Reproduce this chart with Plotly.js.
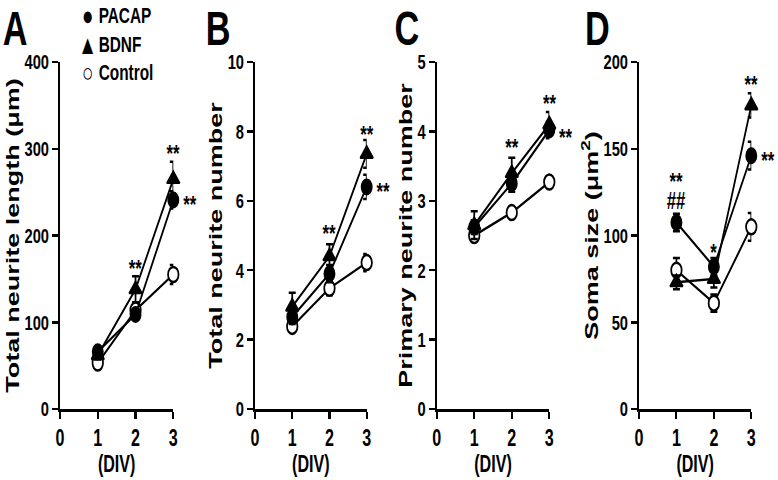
<!DOCTYPE html>
<html>
<head>
<meta charset="utf-8">
<script src="https://cdn.plot.ly/plotly-3.0.1.min.js"></script>
<style>
  html, body { margin: 0; padding: 0; background: #fff; overflow: hidden; }
  #wrap { width: 778px; height: 480px; overflow: hidden; }
  #chart { width: 1112px; height: 480px; transform: scaleX(0.69964); transform-origin: 0 0; }
</style>
</head>
<body>
<div id="wrap"><div id="chart"></div></div>
<script>
// ---- data ----
const div = [1, 2, 3];
const xTickVals = [0, 1, 2, 3];
const seriesNames = ["PACAP", "BDNF", "Control"];
const legendSymbols = ["\u25CF", "\u25B2", "\u25CB"];

// A: Total neurite length (µm)
const lenPACAP = [66, 109, 241];
const lenPACAPErr = [5, 6, 10];
const lenBDNF = [62, 138, 265];
const lenBDNFErr = [5, 15, 20];
const lenControl = [53, 114, 155];
const lenControlErr = [4, 6, 11];

// B: Total neurite number
const numPACAP = [2.65, 3.9, 6.4];
const numPACAPErr = [0.2, 0.25, 0.35];
const numBDNF = [2.95, 4.4, 7.35];
const numBDNFErr = [0.4, 0.35, 0.4];
const numControl = [2.38, 3.48, 4.22];
const numControlErr = [0.15, 0.2, 0.25];

// C: Primary neurite number
const priPACAP = [2.62, 3.25, 4.02];
const priPACAPErr = [0.1, 0.12, 0.12];
const priBDNF = [2.65, 3.4, 4.1];
const priBDNFErr = [0.2, 0.22, 0.18];
const priControl = [2.5, 2.83, 3.27];
const priControlErr = [0.08, 0.06, 0.07];

// D: Soma size (µm²)
const somaPACAP = [107.5, 82, 146];
const somaPACAPErr = [5, 5, 8];
const somaBDNF = [73, 75, 175];
const somaBDNFErr = [4, 5, 7];
const somaControl = [80, 61, 105];
const somaControlErr = [7, 5, 8];

const yTicksA = [0, 100, 200, 300, 400];
const yTicksB = [0, 2, 4, 6, 8, 10];
const yTicksC = [0, 1, 2, 3, 4, 5];
const yTicksD = [0, 50, 100, 150, 200];

const panelLetters = ["A", "B", "C", "D"];
const yTitles = ["Total neurite length (\u03bcm)", "Total neurite number", "Primary neurite number", "Soma size (\u03bcm<sup>2</sup>)"];
const xTitle = "(DIV)";

// significance marks: [panel, x, y, text, side]  side: "top" above the point, "right" beside it
const sigMarks = [
  [0, 2, 168, "**", "top"], [0, 3, 300, "**", "top"], [0, 3, 241, "**", "right"],
  [1, 2, 5.2, "**", "top"], [1, 3, 8.05, "**", "top"], [1, 3, 6.4, "**", "right"],
  [2, 2, 3.84, "**", "top"], [2, 3, 4.47, "**", "top"], [2, 3, 3.99, "**", "right"],
  [3, 1, 134, "**", "top"], [3, 1, 120, "##", "top"], [3, 2, 93, "*", "top"], [3, 3, 190, "**", "top"], [3, 3, 146, "**", "right"]
];

// ---- styling ----
const FONT = "Liberation Sans, Arial, Helvetica, sans-serif";
const black = "#000";
const SX = 778 / 1112;           // horizontal squeeze of the drawing
const markerStyles = {
  PACAP: {symbol: "circle", size: 15, color: black, line: {color: black, width: 2}},
  BDNF: {symbol: "triangle-up", size: 16, color: black, line: {color: black, width: 2}},
  Control: {symbol: "circle", size: 15, color: "#fff", line: {color: black, width: 2.5}}
};

const panels = [
  {ys: {PACAP: lenPACAP, BDNF: lenBDNF, Control: lenControl}, es: {PACAP: lenPACAPErr, BDNF: lenBDNFErr, Control: lenControlErr}, ticks: yTicksA},
  {ys: {PACAP: numPACAP, BDNF: numBDNF, Control: numControl}, es: {PACAP: numPACAPErr, BDNF: numBDNFErr, Control: numControlErr}, ticks: yTicksB},
  {ys: {PACAP: priPACAP, BDNF: priBDNF, Control: priControl}, es: {PACAP: priPACAPErr, BDNF: priBDNFErr, Control: priControlErr}, ticks: yTicksC},
  {ys: {PACAP: somaPACAP, BDNF: somaBDNF, Control: somaControl}, es: {PACAP: somaPACAPErr, BDNF: somaBDNFErr, Control: somaControlErr}, ticks: yTicksD}
];

// layout positions, in the final picture's pixels
const xDomainsPx = [[60, 173.3], [255, 366.7], [436.7, 549.3], [639, 751.3]];
const yDomainPx = [62, 409];
const letterXPx = [2, 205, 394, 584];
const legendMidYPx = 44;
const legendSymbolXPx = 88;
const legendTextXPx = 97;

const traces = [];
const drawOrder = ["Control", "BDNF", "PACAP"];
panels.forEach((p, i) => {
  const sfx = i === 0 ? "" : String(i + 1);
  drawOrder.forEach(name => {
    traces.push({
      type: "scatter", mode: "lines+markers",
      x: div, y: p.ys[name],
      xaxis: "x" + sfx, yaxis: "y" + sfx,
      name: name, showlegend: false, cliponaxis: false,
      line: {color: black, width: 2.5},
      marker: markerStyles[name],
      error_y: {type: "data", array: p.es[name], visible: true, color: black, thickness: 2.5, width: 5}
    });
  });
});

const W = 1112, H = 480;
const layout = {
  width: W, height: H,
  margin: {l: 0, r: 0, t: 0, b: 0},
  paper_bgcolor: "#fff", plot_bgcolor: "#fff",
  font: {family: FONT, color: black, size: 21, weight: "bold"},
  showlegend: false,
  annotations: []
};

panels.forEach((p, i) => {
  const sfx = i === 0 ? "" : String(i + 1);
  layout["xaxis" + sfx] = {
    domain: [xDomainsPx[i][0] / 778, xDomainsPx[i][1] / 778], anchor: "y" + sfx, range: [0, 3],
    tickmode: "array", tickvals: xTickVals, ticktext: xTickVals.map(String),
    showgrid: false, zeroline: false, showline: true, linecolor: black, linewidth: 2.5,
    ticks: "outside", ticklen: 7, tickwidth: 3, tickcolor: black,
    tickfont: {family: FONT, size: 23, color: black, weight: "bold"},
    title: {text: xTitle, standoff: 4, font: {family: FONT, size: 23, color: black, weight: "bold"}},
    fixedrange: true, automargin: false
  };
  const t = p.ticks;
  layout["yaxis" + sfx] = {
    domain: [1 - yDomainPx[1] / H, 1 - yDomainPx[0] / H], anchor: "x" + sfx, range: [t[0], t[t.length - 1]],
    tickmode: "array", tickvals: t, ticktext: t.map(String),
    showgrid: false, zeroline: false, showline: true, linecolor: black, linewidth: 2.5,
    ticks: "outside", ticklen: 9, tickwidth: 2.5, tickcolor: black,
    tickfont: {family: FONT, size: 21, color: black, weight: "bold"},
    title: {text: yTitles[i], standoff: 0, font: {family: FONT, size: 27, color: black, weight: "bold"}},
    fixedrange: true, automargin: false
  };
  // panel letter
  layout.annotations.push({
    xref: "paper", yref: "paper", x: letterXPx[i] / 778, y: 1, xanchor: "left", yanchor: "top",
    yshift: 0, borderpad: 0, text: panelLetters[i], showarrow: false,
    font: {family: FONT, size: 49, color: black, weight: "bold"}
  });
});

// legend (symbols column + labels column), top of panel A
layout.annotations.push({
  xref: "paper", yref: "paper", x: legendSymbolXPx / 778, y: 1 - legendMidYPx / H,
  xanchor: "center", yanchor: "middle", align: "center", showarrow: false,
  text: legendSymbols.map(s => "<span style='font-size:27px'>" + s + "</span>").join("<br>"),
  font: {family: FONT, size: 22, color: black}
});
layout.annotations.push({
  xref: "paper", yref: "paper", x: legendTextXPx / 778, y: 1 - legendMidYPx / H,
  xanchor: "left", yanchor: "middle", align: "left", showarrow: false,
  text: seriesNames.join("<br>"),
  font: {family: FONT, size: 22, color: black, weight: "bold"}
});

sigMarks.forEach(([pi, x, y, txt, side]) => {
  const sfx = pi === 0 ? "" : String(pi + 1);
  layout.annotations.push({
    xref: "x" + sfx, yref: "y" + sfx, x: x, y: y, text: txt, showarrow: false,
    xanchor: "center", yanchor: "middle",
    xshift: side === "right" ? 16.5 / SX : 0,
    yshift: txt === "##" ? 0 : -5,
    font: {family: FONT, size: 24, color: black, weight: "bold"}
  });
});

Plotly.newPlot("chart", traces, layout, {staticPlot: true, displayModeBar: false});
</script>
</body>
</html>
